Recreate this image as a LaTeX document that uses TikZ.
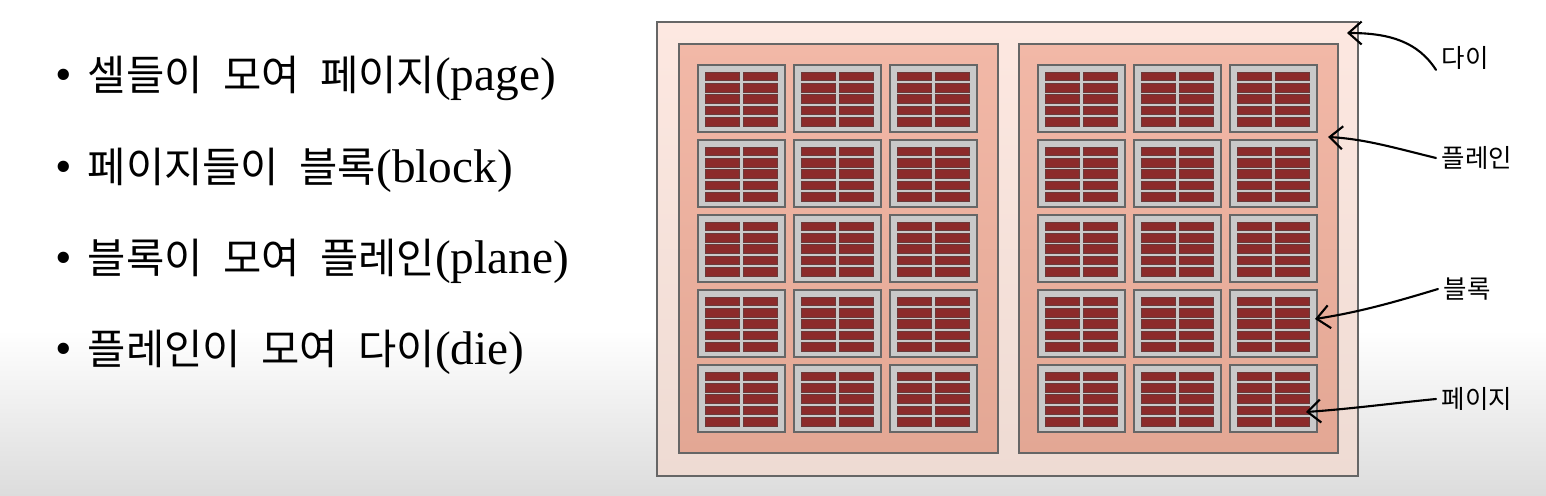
\documentclass[tikz,border=0pt]{standalone}
\usepackage{fontspec}
\setmainfont{Liberation Serif}[Scale=1.17]
\newfontfamily\kr{Noto Sans CJK KR}[Scale=1.03, WordSpace=2.2]
\newfontfamily\krtag{Noto Sans CJK KR}
\usetikzlibrary{arrows.meta,positioning}

\definecolor{bgGray}{HTML}{DCDCDC}
\definecolor{dieTop}{HTML}{FDE8E1}
\definecolor{dieBot}{HTML}{EEDBD3}
\definecolor{planeTop}{HTML}{F2B8A7}
\definecolor{planeBot}{HTML}{E3A794}
\definecolor{frameGray}{HTML}{666666}
\definecolor{blockGray}{HTML}{C9C9C9}
\definecolor{barRed}{HTML}{8C2B2B}
\definecolor{barEdge}{HTML}{6A3A3A}

\tikzset{
  diebox/.style={draw=frameGray, line width=1.1pt, top color=dieTop, bottom color=dieBot},
  planebox/.style={draw=frameGray, line width=1.1pt, top color=planeTop, bottom color=planeBot},
  blockbox/.style={draw=frameGray, line width=1pt, fill=blockGray},
  pagebar/.style={draw=barEdge, line width=0.25pt, fill=barRed},
  item/.style={anchor=base west, inner sep=0pt, font=\fontsize{23}{28}\selectfont},
  tag/.style={anchor=west, inner ysep=0pt, inner xsep=3pt, font=\krtag\fontsize{14.5}{17}\selectfont},
  pointer/.style={-{Straight Barb[length=2.6mm,width=4.6mm]}, line width=1.2pt, line cap=round},
}

\begin{document}
\begin{tikzpicture}[x=0.02cm, y=-0.02cm]
  \useasboundingbox (0,0) rectangle (1546,496);
  \fill[white] (0,0) rectangle (1546,496);
  \shade[top color=white, bottom color=bgGray] (0,330) rectangle (1546,496);

  % bullet list
  \node[item] (line1) at (55,91) {\textbullet\hspace{9pt}{\kr 셀들이 모여 페이지}(page)};
  \node[item] (line2) at (55,183) {\textbullet\hspace{9pt}{\kr 페이지들이 블록}(block)};
  \node[item] (line3) at (55,274) {\textbullet\hspace{9pt}{\kr 블록이 모여 플레인}(plane)};
  \node[item] (line4) at (55,365) {\textbullet\hspace{9pt}{\kr 플레인이 모여 다이}(die)};

  % die and planes
  \draw[diebox] (657,22) rectangle (1358,476);
  \draw[planebox] (679,44) rectangle (998,453);
  \draw[planebox] (1019,44) rectangle (1338,453);

  % blocks, each with 5x2 pages
  \foreach \px in {698,1038}
    \foreach \c in {0,1,2}
      \foreach \r in {0,...,4}{
        \pgfmathsetmacro\bx{\px+96*\c}
        \pgfmathsetmacro\by{65+75*\r}
        \draw[blockbox] (\bx,\by) rectangle ++(87,67);
        \foreach \i in {0,...,4}{
          \draw[pagebar] (\bx+7,\by+7+11.3*\i) rectangle ++(34,8.6);
          \draw[pagebar] (\bx+45,\by+7+11.3*\i) rectangle ++(34,8.6);
        }
      }

  % labels
  \coordinate (dieTip) at (1347,33);
  \coordinate (planeTip) at (1328,137);
  \coordinate (blockTip) at (1315,319);
  \coordinate (pageTip) at (1306,412);
  \node[tag] (tagDie) at (1436,58) {다이};
  \node[tag] (tagPlane) at (1436,158) {플레인};
  \node[tag] (tagBlock) at (1438,289) {블록};
  \node[tag] (tagPage) at (1436,399) {페이지};
  \draw[pointer] (tagDie.south west) .. controls (1418,42) and (1390,33) .. (dieTip);
  \draw[pointer] (tagPlane.west) .. controls (1395,148) and (1365,139) .. (planeTip);
  \draw[pointer] (tagBlock.west) .. controls (1395,302) and (1360,312) .. (blockTip);
  \draw[pointer] (tagPage.west) .. controls (1395,403) and (1350,409) .. (pageTip);
\end{tikzpicture}
\end{document}
